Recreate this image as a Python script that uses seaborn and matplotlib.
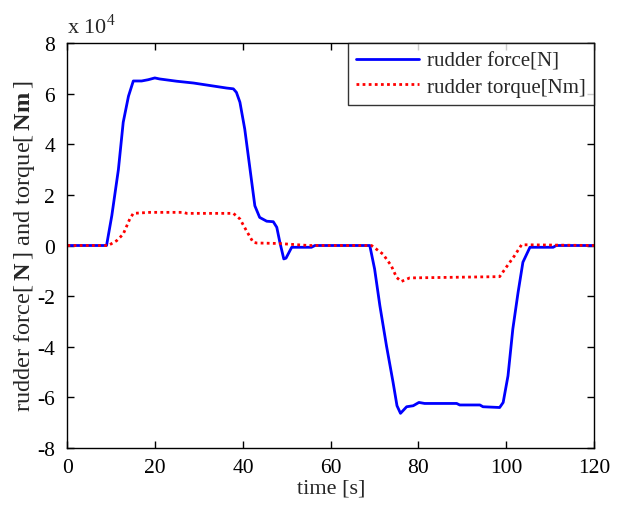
import numpy as np
import pandas as pd
import matplotlib
matplotlib.use("Agg")
import matplotlib.pyplot as plt
import seaborn as sns
from matplotlib.ticker import FuncFormatter

# ---- data (force / torque in units of 1e4) ----
t_force = [0, 8.9, 10.1, 11.6, 12.7, 13.9, 15.0, 16.9, 18.4, 19.9, 21.0, 24.9, 28.7,
           32.5, 36.3, 37.8, 38.5, 39.3, 40.4, 41.6, 42.7, 43.8, 45.4, 46.9, 47.7,
           48.4, 49.3, 49.8, 51.1, 55.6, 56.4, 68.9, 70.0, 71.2, 72.7, 74.2, 75.1,
           75.9, 77.3, 78.8, 80.1, 81.4, 88.7, 89.4, 94.0, 94.7, 98.5, 99.3, 100.4,
           101.5, 102.7, 103.8, 105.4, 110.7, 111.4, 120]
force = [0, 0, 1.18, 3.0, 4.87, 5.9, 6.5, 6.5, 6.55, 6.62, 6.58, 6.49, 6.42,
         6.32, 6.22, 6.19, 6.05, 5.66, 4.6, 3.02, 1.57, 1.11, 0.96, 0.94, 0.72,
         0.13, -0.53, -0.5, -0.07, -0.07, 0, 0, -0.93, -2.38, -3.96, -5.4, -6.33,
         -6.63, -6.37, -6.33, -6.2, -6.24, -6.24, -6.3, -6.3, -6.37, -6.4, -6.2, -5.15,
         -3.3, -1.85, -0.66, -0.07, -0.07, 0, 0]

t_torque = [0, 9.3, 11.2, 12.7, 14.2, 15.0, 18.8, 26.4, 27.2, 37.8, 39.3, 40.8, 42.3,
            43.1, 48.1, 55.0, 69.3, 71.9, 73.8, 75.0, 76.1, 78.0, 98.5, 100.0,
            101.9, 103.5, 120]
torque = [0, 0, 0.19, 0.45, 1.05, 1.27, 1.31, 1.31, 1.27, 1.27, 1.05, 0.58, 0.13,
          0.1, 0.08, 0, 0, -0.34, -0.8, -1.26, -1.42, -1.28, -1.23, -0.86,
          -0.4, 0.03, 0]

x_ticks = [0, 20, 40, 60, 80, 100, 120]
y_ticks = [-8, -6, -4, -2, 0, 2, 4, 6, 8]

df_force = pd.DataFrame({"t": t_force, "v": np.array(force) * 1e4})
df_torque = pd.DataFrame({"t": t_torque, "v": np.array(torque) * 1e4})

sns.set_style("ticks")
plt.rcParams["font.family"] = ["Liberation Serif", "DejaVu Serif"]
plt.rcParams["mathtext.fontset"] = "custom"
plt.rcParams["mathtext.rm"] = "Liberation Serif"
plt.rcParams["mathtext.bf"] = "Liberation Serif:bold"

fig = plt.figure(figsize=(6.17, 5.10), dpi=100)
ax = fig.add_axes([0.1094, 0.1196, 0.8533, 0.7941])

sns.lineplot(data=df_force, x="t", y="v", ax=ax, color="#0000ff", linewidth=2.0,
             estimator=None, sort=False, label="rudder force[N]")
sns.lineplot(data=df_torque, x="t", y="v", ax=ax, color="#ff0000", linewidth=2.0,
             linestyle=(0, (1, 1.2)), estimator=None, sort=False,
             label="rudder torque[Nm]")

ax.set_xlim(0, 120)
ax.set_ylim(-8e4, 8e4)
ax.set_xticks(x_ticks)
ax.set_yticks([v * 1e4 for v in y_ticks])
ax.yaxis.set_major_formatter(FuncFormatter(lambda v, p: "%d" % round(v / 1e4)))
ax.tick_params(direction="in", top=True, right=True, labelsize=15.5, length=5,
               width=1, colors="black")
ax.tick_params(axis="y", pad=9)
ax.tick_params(axis="x", pad=7)
for s in ax.spines.values():
    s.set_visible(True)
    s.set_linewidth(1.0)
    s.set_color("black")

ax.set_xlabel("time [s]", fontsize=16, labelpad=1)
ax.set_ylabel(r"rudder force$[\,\mathbf{N}\,]$ and torque$[\,\mathbf{Nm}\,]$",
              fontsize=17.5, labelpad=0)
ax.text(0.0, 1.012, "x 10$^{4}$", transform=ax.transAxes, fontsize=16,
        ha="left", va="bottom")

leg = ax.legend(loc="upper right", fontsize=15, frameon=True, fancybox=False,
                borderaxespad=0, handlelength=3.0, borderpad=0.4,
                labelspacing=0.3, handletextpad=0.4)
leg.get_frame().set_edgecolor("black")
leg.get_frame().set_linewidth(1.0)

fig.savefig("out.png", dpi=100)
